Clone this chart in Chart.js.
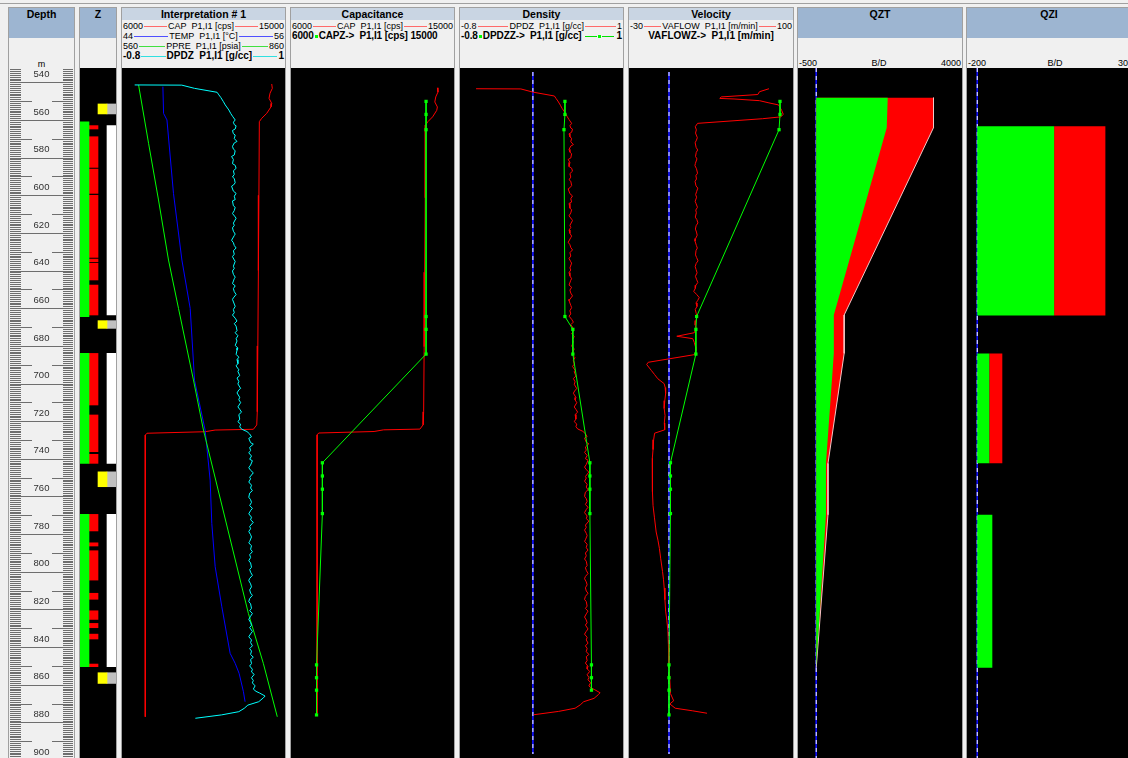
<!DOCTYPE html>
<html>
<head>
<meta charset="utf-8">
<script src="https://cdn.jsdelivr.net/npm/chart.js@4.4.1/dist/chart.umd.min.js"></script>
<style>
  html,body{margin:0;padding:0}
  body{width:1128px;height:758px;overflow:hidden;background:#f0f0f0;position:relative;font-family:"Liberation Sans",Arial,sans-serif;color:#000}
  .topline{position:absolute;left:0;top:3px;width:1128px;height:1px;background:#a0a0a0}
  .track{position:absolute;top:7px;height:760px;border:1px solid #a0a0a0;border-bottom:none;box-sizing:border-box}
  .bar{position:absolute;left:0;right:0;top:0;text-align:center;font-weight:bold;font-size:10.5px;line-height:13px;white-space:nowrap}
  .tall{height:30px;background:#9db5d1}
  .short{height:12px;line-height:12px;background:#c9d5e3}
  .rows{position:absolute;left:0;right:0;top:13px}
  .row{display:flex;align-items:center;height:10px;font-size:9px;line-height:10px;white-space:nowrap;padding:0 1px}
  .row .ln{flex:1;height:1px;margin:0 1px}
  .row.b{font-weight:bold;font-size:10px}
  .row.c{justify-content:center}
  .scale{position:absolute;left:0;right:0;top:50px;height:10px;display:flex;justify-content:space-between;font-size:9px;line-height:10px;padding:0 1px}
  .unit{position:absolute;left:0;right:0;top:51px;text-align:center;font-size:9px;line-height:10px}
  .mk{display:inline-block;width:3px;height:3px;background:#00ff00;margin:0 1px}
  canvas{position:absolute;top:68px;background:#000}
</style>
</head>
<body>
<div class="topline"></div>

<!-- track headers -->
<div class="track" style="left:8px;width:67px">
  <div class="bar tall">Depth</div>
  <div class="unit">m</div>
</div>
<div class="track" style="left:79px;width:38px">
  <div class="bar tall">Z</div>
</div>
<div class="track" style="left:121px;width:165px">
  <div class="bar short">Interpretation # 1</div>
  <div class="rows">
    <div class="row"><span>6000</span><i class="ln" style="background:#ff6a6a"></i><span>CAP&nbsp; P1,I1 [cps]</span><i class="ln" style="background:#ff6a6a"></i><span>15000</span></div>
    <div class="row"><span>44</span><i class="ln" style="background:#5050ff"></i><span>TEMP&nbsp; P1,I1 [°C]</span><i class="ln" style="background:#5050ff"></i><span>56</span></div>
    <div class="row"><span>560</span><i class="ln" style="background:#40e040"></i><span>PPRE&nbsp; P1,I1 [psia]</span><i class="ln" style="background:#40e040"></i><span>860</span></div>
    <div class="row b"><span>-0.8</span><i class="ln" style="background:#30e0e0"></i><span>DPDZ&nbsp; P1,I1 [g/cc]</span><i class="ln" style="background:#30e0e0"></i><span>1</span></div>
  </div>
</div>
<div class="track" style="left:290px;width:165px">
  <div class="bar short">Capacitance</div>
  <div class="rows">
    <div class="row"><span>6000</span><i class="ln" style="background:#ff6a6a"></i><span>CAP&nbsp; P1,I1 [cps]</span><i class="ln" style="background:#ff6a6a"></i><span>15000</span></div>
    <div class="row b" style="letter-spacing:-0.15px"><span>6000</span><i class="mk"></i><span>CAPZ-&gt;&nbsp; P1,I1 [cps] 15000</span></div>
  </div>
</div>
<div class="track" style="left:459px;width:165px">
  <div class="bar short">Density</div>
  <div class="rows">
    <div class="row"><span>-0.8</span><i class="ln" style="background:#ff6a6a"></i><span>DPDZ&nbsp; P1,I1 [g/cc]</span><i class="ln" style="background:#ff6a6a"></i><span>1</span></div>
    <div class="row b" style="letter-spacing:-0.1px"><span>-0.8</span><i class="mk"></i><span>DPDZZ-&gt;&nbsp; P1,I1 [g/cc]</span><i class="ln" style="background:#00e000;margin-left:3px"></i><i class="mk" style="margin:0"></i><i class="ln" style="background:#00e000;margin-right:3px"></i><span>1</span></div>
  </div>
</div>
<div class="track" style="left:628px;width:166px">
  <div class="bar short">Velocity</div>
  <div class="rows">
    <div class="row"><span>-30</span><i class="ln" style="background:#ff6a6a"></i><span>VAFLOW&nbsp; P1,I1 [m/min]</span><i class="ln" style="background:#ff6a6a"></i><span>100</span></div>
    <div class="row b c"><span>VAFLOWZ-&gt;&nbsp; P1,I1 [m/min]</span></div>
  </div>
</div>
<div class="track" style="left:797px;width:166px">
  <div class="bar tall">QZT</div>
  <div class="scale"><span>-500</span><span>B/D</span><span>4000</span></div>
</div>
<div class="track" style="left:966px;width:174px">
  <div class="bar tall" style="right:8px">QZI</div>
  <div class="scale"><span>-200</span><span style="margin-left:6px">B/D</span><span>3000</span></div>
</div>

<!-- plot areas -->
<canvas id="cDepth" width="65" height="690" style="left:9px;background:#f0f0f0"></canvas>
<canvas id="cZone" width="36" height="690" style="left:80px"></canvas>
<canvas id="cInterp" width="163" height="690" style="left:122px"></canvas>
<canvas id="cCap" width="163" height="690" style="left:291px"></canvas>
<canvas id="cDens" width="163" height="690" style="left:460px"></canvas>
<canvas id="cVel" width="164" height="690" style="left:629px"></canvas>
<canvas id="cQzt" width="164" height="690" style="left:798px"></canvas>
<canvas id="cQzi" width="164" height="690" style="left:967px"></canvas>

<script>
// ---- depth window (m) ----
const depthTop = 532.4;
const depthBottom = 898.9;
const depthLabels = [540,560,580,600,620,640,660,680,700,720,740,760,780,800,820,840,860,880,900];

// ---- zonation (depth intervals, m) ----
const zoneGreen = [[561.0,664.5],[684.0,742.4],[769.5,850.4]];
const zoneRed = [[563.0,564.8],[568.9,585.2],[586.1,599.0],[600.0,633.0],[633.9,635.3],[636.1,645.0],[647.7,663.6],
                 [684.0,711.4],[716.7,736.2],[737.6,742.4],
                 [769.5,778.3],[784.6,786.3],[788.8,804.4],[811.4,814.6],[820.7,825.3],[827.4,829.7],[833.1,835.7],[849.0,850.4]];
const zoneWhite = [[563.0,663.6],[684.0,742.4],[769.5,850.4]];
const perforations = [[551.5,556.8],[666.6,670.7],[746.9,754.8],[853.6,859.3]];

// ---- continuous logs ----
const capDepth = [540.9,543.2,545.8,548.5,551.2,553.0,556.5,559.1,560.9,600.0,640.0,680.0,715.0,722.0,724.3,724.7,725.6,726.4,727.4,780.0,830.0,877.0];
const capValue = [14267,14300,14173,14118,14267,14230,13991,13715,13583,13560,13530,13500,13470,13440,13253,11142,10591,7378,7284,7290,7280,7284];

const tempDepth = [542.3,556.5,560.0,599.0,634.4,660.1,698.3,724.7,751.3,774.3,797.3,818.6,843.3,848.6,853.9,863.7,869.0];
const tempValue = [47.01,47.06,47.31,47.79,48.41,49.02,49.34,50.12,50.49,50.61,50.86,51.35,51.96,52.33,52.62,52.94,53.06];

const ppreDepth = [541.4,572.4,602.5,634.4,660.1,698.1,724.7,822.1,848.6,877.0];
const ppreValue = [590.5,608.9,627.2,645.6,664.0,691.5,709.9,792.6,820.1,845.8];

const dpdzDepth = [541.4,541.5,543.2,545.3,546.7,548.0,550.3,552.0,554.7,556.5,558.0,
  560.0,561.2,562.5,563.1,564.8,565.6,567.3,568.0,569.9,571.4,572.2,574.0,575.5,576.3,578.6,579.4,581.0,583.2,584.1,585.7,
  587.0,588.9,590.3,591.1,593.4,594.6,595.2,597.8,599.0,600.5,602.3,603.0,605.6,606.4,608.1,609.7,611.5,612.2,614.8,616.0,
  617.3,619.1,620.6,621.4,623.9,625.2,626.7,628.0,629.5,631.3,632.6,634.4,635.1,637.7,638.8,640.2,642.0,643.5,644.3,646.9,
  648.1,649.6,651.2,652.7,654.5,655.3,657.8,659.0,660.7,662.4,663.6,
  665.3,666.8,668.2,669.5,671.9,673.0,674.6,676.2,677.4,679.8,681.1,682.3,684.5,686.0,687.3,689.4,690.6,692.7,693.5,695.8,
  697.1,698.9,700.2,702.6,703.4,705.0,707.3,708.6,710.1,712.4,713.7,715.2,716.5,718.9,720.3,721.6,723.0,724.2,725.5,
  726.8,728.3,729.1,731.4,732.2,733.9,735.6,736.8,738.5,740.2,741.0,743.3,744.7,746.1,747.4,749.8,750.6,752.3,754.0,755.5,
  756.9,758.2,760.4,761.7,763.1,764.8,766.3,767.5,769.2,771.0,772.4,773.7,775.9,777.1,778.6,780.3,781.5,783.8,784.6,786.2,
  788.0,789.3,790.9,792.4,794.1,795.3,797.6,798.8,800.2,801.9,803.5,804.7,806.4,808.0,809.6,811.3,812.5,814.2,815.8,817.0,
  819.4,820.7,822.1,823.6,825.3,826.9,828.4,829.6,831.7,833.0,834.5,836.2,837.6,839.3,840.8,842.1,843.9,845.4,846.6,848.7,
  850.0,851.8,853.2,854.5,856.3,857.7,859.0,860.6,862.3,863.5,
  864.4,866.0,867.0,869.0,870.8,872.5,874.3,876.0,877.8];
const dpdzValue = [-0.66,-0.14,0.00,0.25,0.27,0.29,0.32,0.34,0.38,0.40,0.42,
  0.45,0.43,0.44,0.46,0.45,0.42,0.43,0.45,0.44,0.47,0.44,0.42,0.43,0.45,0.44,0.41,0.43,0.42,0.45,0.46,
  0.43,0.44,0.42,0.44,0.45,0.43,0.41,0.43,0.46,0.44,0.45,0.42,0.43,0.45,0.44,0.42,0.45,0.46,0.43,0.44,
  0.42,0.43,0.45,0.44,0.41,0.43,0.44,0.46,0.43,0.44,0.42,0.44,0.45,0.43,0.44,0.42,0.43,0.45,0.44,0.42,
  0.45,0.43,0.44,0.46,0.43,0.42,0.44,0.45,0.43,0.44,0.42,
  0.45,0.47,0.44,0.46,0.47,0.45,0.48,0.46,0.47,0.45,0.48,0.47,0.46,0.49,0.47,0.48,0.46,0.49,0.48,0.50,
  0.47,0.49,0.48,0.51,0.49,0.47,0.50,0.49,0.51,0.48,0.50,0.52,0.49,0.50,0.48,0.51,0.50,0.52,0.58,
  0.61,0.63,0.60,0.62,0.65,0.61,0.62,0.60,0.63,0.61,0.64,0.62,0.60,0.62,0.65,0.61,0.62,0.60,0.63,0.62,
  0.64,0.61,0.60,0.62,0.63,0.61,0.64,0.62,0.60,0.63,0.62,0.65,0.61,0.62,0.60,0.62,0.63,0.61,0.60,0.63,
  0.62,0.64,0.61,0.62,0.60,0.62,0.63,0.61,0.62,0.64,0.61,0.60,0.62,0.63,0.61,0.62,0.64,0.61,0.60,0.62,
  0.63,0.61,0.64,0.62,0.60,0.62,0.63,0.61,0.64,0.62,0.60,0.63,0.62,0.64,0.61,0.63,0.62,0.65,0.62,0.63,
  0.61,0.64,0.63,0.66,0.63,0.65,0.64,0.67,0.65,0.68,
  0.72,0.78,0.76,0.71,0.59,0.55,0.49,0.30,0.01];

const vaflowDepth = [541.4,543.0,544.5,545.8,546.6,546.9,547.8,549.0,550.1,553.0,555.1,556.5,557.5,560.0,561.8,
  563.5,565.2,567.7,569.0,570.4,572.9,574.3,575.6,577.8,579.1,581.5,582.7,584.4,586.8,588.1,589.9,591.2,593.6,594.8,596.5,
  598.3,599.7,601.9,603.2,605.1,606.6,608.0,610.4,611.7,613.5,615.0,616.8,618.4,620.1,621.9,623.3,625.6,627.0,628.4,630.7,
  632.1,633.9,635.2,637.0,638.6,640.3,642.2,643.7,645.5,647.0,648.7,650.3,652.0,653.6,655.1,656.5,658.4,660.0,662.2,664.1,
  666.0,668.3,670.1,
  672.5,674.4,675.7,677.8,680,682.2,684.3,688.4,689.6,692.8,695,697.2,699.9,702,705.2,709,713.2,717,721,724.7,726.5,730,735.3,740,745,753.0,758,765.4,
  772,779.6,784,788.4,794,800.8,805,809.7,816,822.1,827,832.7,840,850.4,858,866.4,870.3,872.0,874.3,875.7,877.0];
const vaflowValue = [83.3,75.4,74.0,43.6,42.3,54.2,75.4,83.3,91.3,93.9,95.2,93.3,78.0,23.8,21.9,
  22.8,22.1,23.6,22.9,21.8,22.6,23.9,22.7,22.1,23.3,22.0,21.6,22.9,23.8,22.4,22.9,21.7,22.5,24.0,23.1,
  22.2,23.0,21.8,22.6,23.7,22.3,22.8,21.9,23.2,24.1,22.6,22.0,22.9,23.5,22.2,21.7,22.8,23.6,22.5,22.1,
  23.0,24.2,22.7,21.8,22.6,23.4,22.0,22.9,24.0,22.4,21.9,20.6,23.1,25.2,24.0,22.5,23.3,21.9,22.7,23.4,
  22.2,21.8,22.5,
  21.1,6.5,19.8,21.1,22.0,22.4,21.1,-17.3,-18.6,-14.7,-12.0,-9.4,-4.0,-3.2,-2.8,-3.5,-4.0,-3.3,-3.9,-3.6,-12.0,-12.8,-13.3,-13.9,-13.6,-14.1,-13.7,-13.3,
  -12.1,-10.7,-9.2,-8.0,-6.9,-5.4,-4.6,-4.0,-3.4,-2.8,-1.8,-0.9,-0.5,-0.1,0.6,1.2,3.9,0.7,5.2,19.8,31.7];

// ---- station readings ----
const stationDepth = [548.2,555.2,563.4,663.8,670.7,684.0,742.4,749.5,756.6,769.7,851.0,857.9,864.6,877.9];
const capzValue = [13610,13610,13610,13610,13610,13610,7590,7590,7590,7590,7250,7250,7250,7250];
const dpdzzValue = [0.372,0.372,0.361,0.372,0.464,0.464,0.662,0.662,0.662,0.662,0.680,0.680,0.680,null];
const vaflowzValue = [92.5,92.5,91.7,23.0,22.4,22.4,1.2,1.2,1.2,1.2,0,0,0,0];

// ---- flow profiles (B/D) ----
const qztDepth = [548.2,564.1,663.6,684.0,742.4,769.7,851.0];
const qztTotal = [3218,3218,767,767,323,323,0];
const qztPartial = [1962,1935,483,483,268,268,0];

const qziTop = [563.4,684.0,769.7];
const qziBottom = [663.8,742.4,851.0];
const qziPartial = [1500,235,294];
const qziTotal = [2500,489,294];

// ---- helpers ----
const GREEN = '#00ff00', RED = '#ff0000';
function depthAxis(){ return {type:'linear', reverse:true, min:depthTop, max:depthBottom, display:false}; }
function valueAxis(min, max){ return {type:'linear', min:min, max:max, display:false}; }
function baseOptions(xAxes){
  return {
    responsive:false, animation:false, events:[],
    layout:{padding:0},
    plugins:{legend:{display:false}, tooltip:{enabled:false}},
    scales:Object.assign({y:depthAxis()}, xAxes)
  };
}
function pts(depths, values){ return depths.map((d,i)=>({x:values[i], y:d})); }
function curve(depths, values, color, axis){
  return {data:pts(depths, values), showLine:true, borderColor:color, borderWidth:1,
          pointRadius:0, xAxisID:axis, fill:false, tension:0};
}
function stations(values, axis){
  return {data:pts(stationDepth, values), showLine:true, borderColor:GREEN, borderWidth:1,
          pointStyle:'rect', pointRadius:2.3, pointBackgroundColor:GREEN, pointBorderColor:GREEN,
          pointBorderWidth:0, xAxisID:axis, fill:false, tension:0};
}
function zeroLines(axis){
  const d = [{x:0,y:depthTop},{x:0,y:depthBottom}];
  return [
    {data:d, showLine:true, borderColor:'#ffffff', borderWidth:1, borderDash:[4,4], pointRadius:0, xAxisID:axis},
    {data:d, showLine:true, borderColor:'#1010ff', borderWidth:1, pointRadius:0, xAxisID:axis}
  ];
}
function polygon(points, color, axis){
  return {data:points, showLine:true, fill:'shape', backgroundColor:color,
          borderColor:'rgba(0,0,0,0)', borderWidth:0, pointRadius:0, xAxisID:axis, tension:0};
}

// ---- depth ruler ----
const depthRuler = {
  id:'depthRuler',
  afterDraw(chart){
    const ctx = chart.ctx, ys = chart.scales.y, W = chart.width;
    ctx.save();
    ctx.strokeStyle = '#6e6e6e';
    ctx.lineWidth = 1;
    for (let d = Math.ceil(depthTop); d <= depthBottom; d++){
      const py = Math.round(ys.getPixelForValue(d)) + 0.5;
      ctx.beginPath();
      if (d % 20 === 0){ ctx.moveTo(1,py); ctx.lineTo(W-1,py); }
      else if (d % 10 === 0){ ctx.moveTo(1,py); ctx.lineTo(23,py); ctx.moveTo(43,py); ctx.lineTo(W-1,py); }
      else { ctx.moveTo(1,py); ctx.lineTo(12,py); ctx.moveTo(54,py); ctx.lineTo(W-1,py); }
      ctx.stroke();
    }
    ctx.font = '9.5px "Liberation Sans", Arial, sans-serif';
    ctx.textAlign = 'center';
    ctx.textBaseline = 'middle';
    depthLabels.forEach(d => {
      const py = ys.getPixelForValue(d) - 8;
      const tw = ctx.measureText(String(d)).width;
      ctx.fillStyle = '#f0f0f0';
      ctx.fillRect(W/2 - tw/2 - 1, py - 5, tw + 2, 10);
      ctx.fillStyle = '#303030';
      ctx.fillText(String(d), W/2, py);
    });
    ctx.restore();
  }
};
new Chart(document.getElementById('cDepth'), {
  type:'scatter', data:{datasets:[]},
  options:baseOptions({x:valueAxis(0,1)}),
  plugins:[depthRuler]
});

// ---- zonation track ----
function bars(intervals, column, color){
  return {data:intervals.map(r => ({x:column, y:r})), backgroundColor:color, borderWidth:0,
          grouped:false, barPercentage:1, categoryPercentage:1};
}
new Chart(document.getElementById('cZone'), {
  type:'bar',
  data:{labels:['zone','net','perf','well'], datasets:[
    bars(zoneGreen,'zone',GREEN),
    bars(zoneRed,'net',RED),
    bars(perforations,'perf','#ffff00'),
    bars(perforations,'well','#c0c0c0'),
    bars(zoneWhite,'well','#ffffff')
  ]},
  options:baseOptions({x:{type:'category', display:false, offset:true}})
});

// ---- interpretation track ----
new Chart(document.getElementById('cInterp'), {
  type:'scatter',
  data:{datasets:[
    curve(dpdzDepth, dpdzValue, '#00ffff', 'xDpdz'),
    curve(ppreDepth, ppreValue, GREEN, 'xPpre'),
    curve(tempDepth, tempValue, '#0000ff', 'xTemp'),
    curve(capDepth, capValue, RED, 'xCap')
  ]},
  options:baseOptions({
    xCap:valueAxis(6000,15000), xTemp:valueAxis(44,56),
    xPpre:valueAxis(560,860), xDpdz:valueAxis(-0.8,1)
  })
});

// ---- capacitance track ----
new Chart(document.getElementById('cCap'), {
  type:'scatter',
  data:{datasets:[
    stations(capzValue, 'xCap'),
    curve(capDepth, capValue, RED, 'xCap')
  ]},
  options:baseOptions({xCap:valueAxis(6000,15000)})
});

// ---- density track ----
new Chart(document.getElementById('cDens'), {
  type:'scatter',
  data:{datasets:[
    stations(dpdzzValue, 'xD'),
    curve(dpdzDepth, dpdzValue, RED, 'xD'),
    ...zeroLines('xD')
  ]},
  options:baseOptions({xD:valueAxis(-0.8,1)})
});

// ---- velocity track ----
new Chart(document.getElementById('cVel'), {
  type:'scatter',
  data:{datasets:[
    stations(vaflowzValue, 'xV'),
    curve(vaflowDepth, vaflowValue, RED, 'xV'),
    ...zeroLines('xV')
  ]},
  options:baseOptions({xV:valueAxis(-30,100)})
});

// ---- QZT: cumulative flow profile ----
function profileShape(values){
  const last = qztDepth.length - 1;
  const shape = [{x:0, y:qztDepth[0]}, {x:0, y:qztDepth[last]}];
  for (let i = last; i >= 0; i--) shape.push({x:values[i], y:qztDepth[i]});
  return shape;
}
new Chart(document.getElementById('cQzt'), {
  type:'scatter',
  data:{datasets:[
    polygon(profileShape(qztPartial), GREEN, 'xQ'),
    curve(qztDepth, qztTotal, '#f2c6c6', 'xQ'),
    polygon(profileShape(qztTotal), RED, 'xQ'),
    ...zeroLines('xQ')
  ]},
  options:baseOptions({xQ:valueAxis(-500,4000)})
});

// ---- QZI: contribution per zone ----
const qziSets = [];
qziTop.forEach((top, i) => {
  const bot = qziBottom[i];
  qziSets.push(polygon([{x:0,y:top},{x:0,y:bot},{x:qziPartial[i],y:bot},{x:qziPartial[i],y:top}], GREEN, 'xQ'));
  if (qziTotal[i] > qziPartial[i]) {
    qziSets.push(polygon([{x:qziPartial[i],y:top},{x:qziPartial[i],y:bot},{x:qziTotal[i],y:bot},{x:qziTotal[i],y:top}], RED, 'xQ'));
  }
});
new Chart(document.getElementById('cQzi'), {
  type:'scatter',
  data:{datasets:[...qziSets, ...zeroLines('xQ')]},
  options:baseOptions({xQ:valueAxis(-200,3000)})
});
</script>
</body>
</html>
